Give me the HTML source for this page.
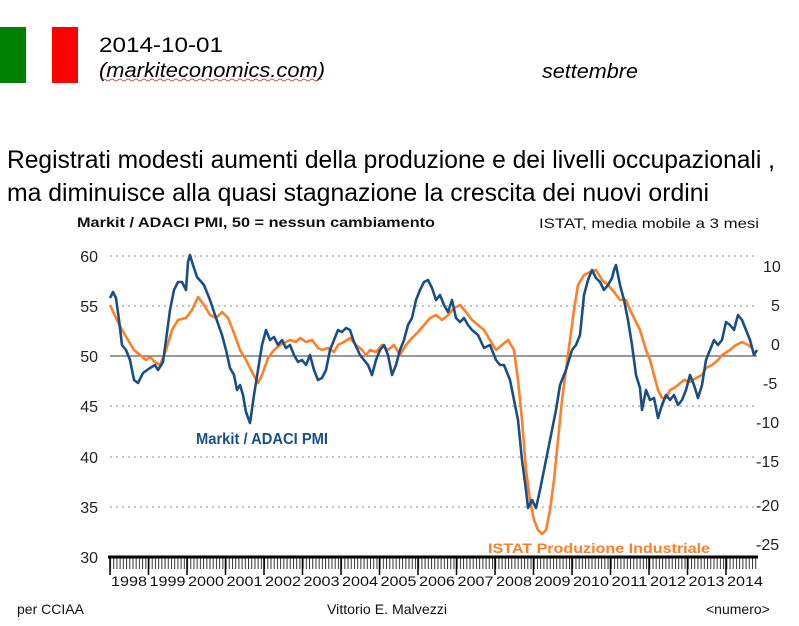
<!DOCTYPE html>
<html><head><meta charset="utf-8"><style>
html,body{margin:0;padding:0;background:#fff;}
svg{display:block;font-family:"Liberation Sans",sans-serif;}
</style></head><body>
<svg width="799" height="626" viewBox="0 0 799 626" xmlns="http://www.w3.org/2000/svg">
<rect x="0" y="27" width="26" height="56" fill="#008000"/>
<rect x="52" y="27" width="26" height="56" fill="#ff0000"/>
<text x="99" y="52" font-size="21" fill="#000" textLength="124" lengthAdjust="spacingAndGlyphs">2014-10-01</text>
<text x="99" y="77" font-size="20" font-style="italic" fill="#000" textLength="226" lengthAdjust="spacingAndGlyphs">(markiteconomics.com)</text>
<path d="M102 80 q2 -2 4 0 t4 0 t4 0 t4 0 t4 0 t4 0 t4 0 t4 0 t4 0 t4 0 t4 0 t4 0 t4 0 t4 0 t4 0 t4 0 t4 0 t4 0 t4 0 t4 0 t4 0 t4 0 t4 0 t4 0 t4 0 t4 0 t4 0 t4 0 t4 0 t4 0 t4 0 t4 0 t4 0 t4 0 t4 0 t4 0 t4 0 t4 0 t4 0 t4 0 t4 0 t4 0 t4 0 t4 0 t4 0 t4 0 t4 0 t4 0 t4 0 t4 0 t4 0 t4 0 t4 0 t4 0 t4 0" fill="none" stroke="#d02020" stroke-width="0.8"/>
<text x="542" y="78" font-size="20" font-style="italic" fill="#000" textLength="96" lengthAdjust="spacingAndGlyphs">settembre</text>
<text x="7" y="168" font-size="25" fill="#000" textLength="768" lengthAdjust="spacingAndGlyphs">Registrati modesti aumenti della produzione e dei livelli occupazionali ,</text>
<text x="7" y="201" font-size="25" fill="#000" textLength="702" lengthAdjust="spacingAndGlyphs">ma diminuisce alla quasi stagnazione la crescita dei nuovi ordini</text>
<text x="77" y="227" font-size="14" font-weight="bold" fill="#111" textLength="358" lengthAdjust="spacingAndGlyphs">Markit / ADACI PMI, 50 = nessun cambiamento</text>
<text x="539" y="228" font-size="14" fill="#111" textLength="220" lengthAdjust="spacingAndGlyphs">ISTAT,  media mobile a 3 mesi</text>
<g stroke="#888" stroke-width="1" stroke-dasharray="2,4">
<line x1="110" y1="256" x2="757" y2="256"/>
<line x1="110" y1="306" x2="757" y2="306"/>
<line x1="110" y1="406" x2="757" y2="406"/>
<line x1="110" y1="457" x2="757" y2="457"/>
<line x1="110" y1="507" x2="757" y2="507"/>
</g>
<line x1="110" y1="356" x2="757" y2="356" stroke="#333" stroke-width="1"/>
<g font-size="16" fill="#222" text-anchor="end">
<text x="98" y="262">60</text><text x="98" y="312">55</text><text x="98" y="362">50</text>
<text x="98" y="412">45</text><text x="98" y="463">40</text><text x="98" y="513">35</text><text x="98" y="563">30</text>
</g>
<g font-size="16" fill="#222">
<text x="763" y="272">10</text><text x="771" y="311">5</text><text x="771" y="350">0</text>
<text x="763" y="389">-5</text><text x="756" y="428">-10</text><text x="756" y="467">-15</text>
<text x="756" y="511">-20</text><text x="756" y="550">-25</text>
</g>
<defs><pattern id="mt" x="110" y="0" width="3.21" height="20" patternUnits="userSpaceOnUse"><rect x="0" y="0" width="1" height="20" fill="#333"/></pattern></defs>
<rect x="110" y="557" width="647" height="12" fill="url(#mt)"/>
<g stroke="#000" stroke-width="1.5">
<line x1="110" y1="557" x2="110" y2="575"/><line x1="148.5" y1="557" x2="148.5" y2="575"/><line x1="187" y1="557" x2="187" y2="575"/><line x1="225.5" y1="557" x2="225.5" y2="575"/><line x1="264" y1="557" x2="264" y2="575"/><line x1="302.5" y1="557" x2="302.5" y2="575"/><line x1="341" y1="557" x2="341" y2="575"/><line x1="379.5" y1="557" x2="379.5" y2="575"/><line x1="418" y1="557" x2="418" y2="575"/><line x1="456.5" y1="557" x2="456.5" y2="575"/><line x1="495" y1="557" x2="495" y2="575"/><line x1="533.5" y1="557" x2="533.5" y2="575"/><line x1="572" y1="557" x2="572" y2="575"/><line x1="610.5" y1="557" x2="610.5" y2="575"/><line x1="649" y1="557" x2="649" y2="575"/><line x1="687.5" y1="557" x2="687.5" y2="575"/><line x1="726" y1="557" x2="726" y2="575"/>
</g>
<line x1="108" y1="557" x2="758" y2="557" stroke="#000" stroke-width="3"/>
<g font-size="14" fill="#111" text-anchor="middle">
<text x="129" y="586" textLength="36" lengthAdjust="spacingAndGlyphs">1998</text><text x="167.5" y="586" textLength="36" lengthAdjust="spacingAndGlyphs">1999</text><text x="206" y="586" textLength="36" lengthAdjust="spacingAndGlyphs">2000</text><text x="244.5" y="586" textLength="36" lengthAdjust="spacingAndGlyphs">2001</text><text x="283" y="586" textLength="36" lengthAdjust="spacingAndGlyphs">2002</text><text x="321.5" y="586" textLength="36" lengthAdjust="spacingAndGlyphs">2003</text><text x="360" y="586" textLength="36" lengthAdjust="spacingAndGlyphs">2004</text><text x="398.5" y="586" textLength="36" lengthAdjust="spacingAndGlyphs">2005</text><text x="437" y="586" textLength="36" lengthAdjust="spacingAndGlyphs">2006</text><text x="475.5" y="586" textLength="36" lengthAdjust="spacingAndGlyphs">2007</text><text x="514" y="586" textLength="36" lengthAdjust="spacingAndGlyphs">2008</text><text x="552.5" y="586" textLength="36" lengthAdjust="spacingAndGlyphs">2009</text><text x="591" y="586" textLength="36" lengthAdjust="spacingAndGlyphs">2010</text><text x="629.5" y="586" textLength="36" lengthAdjust="spacingAndGlyphs">2011</text><text x="668" y="586" textLength="36" lengthAdjust="spacingAndGlyphs">2012</text><text x="706.5" y="586" textLength="36" lengthAdjust="spacingAndGlyphs">2013</text><text x="745" y="586" textLength="36" lengthAdjust="spacingAndGlyphs">2014</text>
</g>
<polyline fill="none" stroke="#ff7f27" stroke-width="2.6" stroke-linejoin="round" points="110,305 116,318 122,330 128,340 134,350 140,355 146,360 150,357 155,362 160,365 166,350 172,330 178,320 186,318 192,310 198,297 204,305 210,315 216,318 222,312 228,318 234,333 240,350 246,360 252,372 258,383 262,375 268,358 274,350 280,345 286,342 290,340 296,342 300,338 306,342 312,340 318,348 322,350 328,348 334,352 338,345 344,342 350,338 356,345 362,350 366,355 370,350 376,352 382,345 388,350 394,345 400,355 406,345 412,338 418,332 424,325 430,318 436,315 442,320 448,315 454,308 460,305 466,312 472,320 478,325 484,330 490,340 496,350 502,345 508,340 514,350 518,380 522,420 526,470 530,500 534,520 538,530 542,534 546,530 550,510 554,480 558,440 562,400 566,370 570,340 574,310 578,285 584,275 590,272 596,270 602,280 608,285 614,292 620,300 626,300 630,310 634,318 640,330 646,350 650,360 654,375 658,390 662,398 666,398 670,390 674,388 678,385 684,380 690,382 696,378 702,375 706,368 712,365 718,360 722,355 730,350 736,345 742,342 748,345 752,348"/>
<polyline fill="none" stroke="#1a4f86" stroke-width="2.6" stroke-linejoin="round" points="110,298 113,292 116,298 119,320 122,345 126,350 130,360 134,380 138,383 143,373 150,368 155,365 158,370 163,362 166,340 170,310 174,290 178,282 182,282 186,290 188,262 190,255 193,265 197,277 204,285 210,300 215,315 222,335 226,350 230,368 234,375 237,390 240,385 243,395 246,412 250,423 254,395 258,370 262,345 266,330 270,340 274,337 278,345 282,340 286,348 290,345 294,355 298,362 302,360 306,365 310,355 314,370 318,380 322,378 326,370 330,350 334,340 338,330 342,332 346,328 350,330 354,342 360,355 364,360 368,365 372,375 376,360 380,350 384,345 388,355 392,375 396,365 400,350 404,340 408,325 412,318 416,300 420,290 424,282 428,280 432,288 436,300 440,295 444,305 448,312 452,300 456,318 460,322 464,318 468,325 472,330 478,335 484,348 490,345 496,360 500,365 504,365 510,380 514,400 518,420 522,460 526,490 528,508 532,500 536,508 540,490 546,460 552,430 556,410 560,385 566,370 572,350 576,345 580,335 584,295 588,280 592,270 596,278 600,282 604,290 608,285 612,278 614,270 616,265 620,285 624,300 628,320 632,345 636,375 640,388 642,410 646,390 650,400 654,398 658,418 662,405 666,395 670,400 674,395 678,405 682,400 686,390 690,375 694,385 698,398 702,385 706,360 710,350 714,340 718,345 722,340 726,322 730,325 734,330 738,315 742,320 746,330 750,340 754,355 757,350"/>
<text x="196" y="444" font-size="16" font-weight="bold" fill="#1a4f86" textLength="132" lengthAdjust="spacingAndGlyphs">Markit / ADACI PMI</text>
<text x="488" y="553" font-size="14" font-weight="bold" fill="#ff7f27" textLength="222" lengthAdjust="spacingAndGlyphs">ISTAT Produzione Industriale</text>
<text x="17" y="614" font-size="14" fill="#111">per CCIAA</text>
<text x="327" y="614" font-size="14" fill="#111" textLength="120" lengthAdjust="spacingAndGlyphs">Vittorio E. Malvezzi</text>
<text x="706" y="614" font-size="14" fill="#111">&lt;numero&gt;</text>
</svg>
</body></html>
